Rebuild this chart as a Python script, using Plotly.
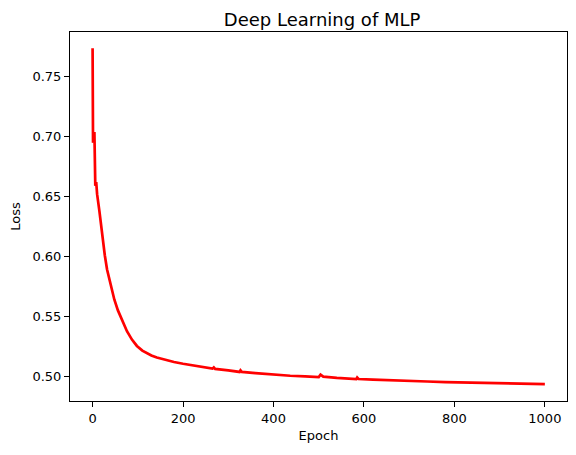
import plotly.graph_objects as go

# loss curve
epochs = [0, 1, 4, 6, 8, 10, 15, 18, 22, 27, 32, 38, 43, 48, 56, 65, 76,
          87, 98, 110, 120, 130, 142, 160, 180, 200, 216, 238, 265, 268,
          271, 300, 325, 327, 330, 360, 393, 437, 470, 500, 504, 510, 540,
          583, 585, 588, 620, 644, 680, 700, 740, 780, 829, 880, 925, 960, 1000]
loss = [0.774, 0.695, 0.704, 0.659, 0.662, 0.652, 0.638, 0.628, 0.615, 0.601,
        0.589, 0.5785, 0.5708, 0.564, 0.5549, 0.5465, 0.5375,
        0.5305, 0.5252, 0.5213, 0.519, 0.5172, 0.5155, 0.5135, 0.5118,
        0.5103, 0.5094, 0.508, 0.5062, 0.5072,
        0.506, 0.5048, 0.5035, 0.5048, 0.5035, 0.5025, 0.5015, 0.5003, 0.4998,
        0.4992, 0.5012, 0.4995, 0.4985,
        0.4975, 0.4988, 0.4976, 0.497, 0.4968, 0.4962, 0.496, 0.4955, 0.495,
        0.4947, 0.4944, 0.4942, 0.4938, 0.4933]

x_ticks = [0, 200, 400, 600, 800, 1000]
y_ticks = [0.50, 0.55, 0.60, 0.65, 0.70, 0.75]

fig = go.Figure(go.Scatter(x=epochs, y=loss, mode='lines',
                           line=dict(color='red', width=2.7)))

axis_style = dict(showline=True, linecolor='black', linewidth=1, mirror=True,
                  ticks='outside', ticklen=5, tickcolor='black', showgrid=False,
                  zeroline=False, automargin=False,
                  tickfont=dict(size=13, color='black'))

fig.update_xaxes(range=[-49.95, 1048.95], tickvals=x_ticks,
                 title=dict(text='Epoch', font=dict(size=13, color='black'), standoff=6),
                 **axis_style)
fig.update_yaxes(range=[0.4792, 0.7875], tickvals=y_ticks, tickformat='.2f',
                 title=dict(text='Loss', font=dict(size=13, color='black'), standoff=8),
                 **axis_style)

# page body has an 8px margin, so the figure is a bit smaller than the window
fig.update_layout(
    width=568, height=447,
    font=dict(family='DejaVu Sans', color='black'),
    title=dict(text='Deep Learning of MLP', x=0.553, xanchor='center', y=0.974,
               yanchor='middle', font=dict(size=18, color='black')),
    plot_bgcolor='white', paper_bgcolor='white',
    margin=dict(l=62, r=9, t=24, b=54),
    showlegend=False,
)

fig.write_html("out.html")
